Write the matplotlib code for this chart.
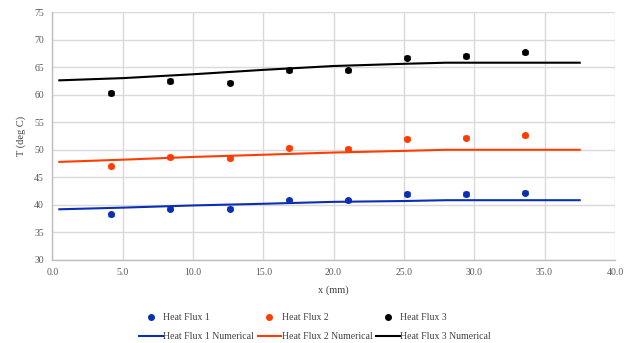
import numpy as np
import matplotlib.pyplot as plt

plt.rcParams['font.family'] = ['Liberation Serif', 'DejaVu Serif']

# measured points
x_exp = [4.2, 8.4, 12.6, 16.8, 21.0, 25.2, 29.4, 33.6]
hf1 = [38.3, 39.3, 39.3, 40.8, 40.8, 42.0, 42.0, 42.2]
hf2 = [47.0, 48.7, 48.5, 50.4, 50.2, 52.0, 52.2, 52.6]
hf3 = [60.3, 62.5, 62.2, 64.5, 64.4, 66.7, 67.0, 67.7]
err = [0.3, 0.3, 0.3, 0.3, 0.3, 0.3, 0.3, 0.3]

# numerical curves
x_num = [0.5, 5.0, 10.0, 15.0, 20.0, 25.0, 28.0, 37.5]
hf1_num = [39.2, 39.5, 39.9, 40.2, 40.55, 40.7, 40.85, 40.85]
hf2_num = [47.8, 48.2, 48.7, 49.1, 49.5, 49.8, 50.0, 50.0]
hf3_num = [62.6, 63.0, 63.7, 64.5, 65.2, 65.6, 65.8, 65.8]

blue = '#0a2fb4'
orange = '#ff3d00'
black = '#000000'

fig = plt.figure(figsize=(6.3, 3.43), dpi=100)
ax = fig.add_axes([0.083, 0.242, 0.893, 0.723])

pts = []
lines = []
for y, yn, c, k in [(hf1, hf1_num, blue, 1), (hf2, hf2_num, orange, 2), (hf3, hf3_num, black, 3)]:
    ax.errorbar(x_exp, y, yerr=err, fmt='none', ecolor=c, elinewidth=0.8, capsize=2)
    p, = ax.plot(x_exp, y, 'o', color=c, markersize=4, label=f'Heat Flux {k}')
    l, = ax.plot(x_num, yn, '-', color=c, linewidth=1.5, label=f'Heat Flux {k} Numerical')
    pts.append(p)
    lines.append(l)

ax.set_xlim(0, 40)
ax.set_ylim(30, 75)
ax.set_xticks(np.arange(0, 40.1, 5))
ax.set_xticklabels([f'{v:.1f}' for v in np.arange(0, 40.1, 5)])
ax.set_yticks(np.arange(30, 76, 5))
ax.grid(True, color='#d9d9d9', linewidth=1)
ax.set_axisbelow(True)
for s in ['top', 'right']:
    ax.spines[s].set_visible(False)
for s in ['left', 'bottom']:
    ax.spines[s].set_color('#bfbfbf')
    ax.spines[s].set_linewidth(1)
ax.tick_params(length=0, labelsize=7, colors='#595959', pad=6)

ax.set_xlabel('x (mm)', fontsize=7.5, color='#404040', labelpad=6)
ax.set_ylabel('T (deg C)', fontsize=7.5, color='#404040', labelpad=6)

handles = [pts[0], lines[0], pts[1], lines[1], pts[2], lines[2]]
fig.legend(handles=handles, labels=[h.get_label() for h in handles], ncol=3,
           loc='lower center', bbox_to_anchor=(0.5, -0.02), frameon=False,
           fontsize=7, handlelength=2.4, handletextpad=0.05, columnspacing=0.4,
           labelspacing=1.0, labelcolor='#404040')

fig.savefig('out.png', dpi=100)
